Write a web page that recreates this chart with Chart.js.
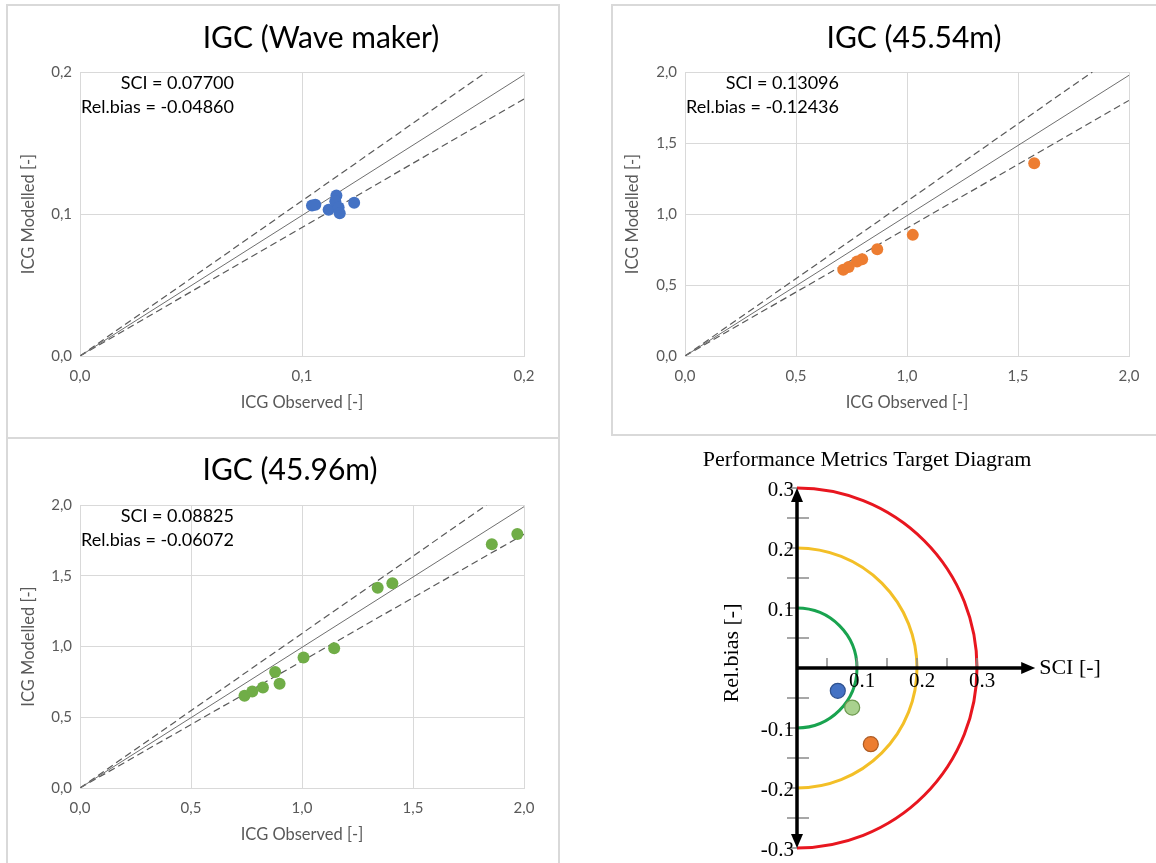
<!DOCTYPE html>
<html>
<head>
<meta charset="utf-8">
<script src="https://cdn.jsdelivr.net/npm/chart.js@4.4.0/dist/chart.umd.min.js"></script>
<style>
  html, body { margin: 0; padding: 0; background: #fff; }
  body { width: 1156px; height: 863px; position: relative; overflow: hidden; }
  .frame { position: absolute; border: 2px solid #d9d9d9; box-sizing: border-box; }
  canvas { position: absolute; }
</style>
</head>
<body>
<div class="frame" style="left:6px;top:4px;width:554px;height:435px"></div>
<div class="frame" style="left:6px;top:437px;width:554px;height:440px"></div>
<div class="frame" style="left:611px;top:4px;width:560px;height:432px"></div>

<canvas id="cWave" width="578" height="437" style="left:0;top:0"></canvas>
<canvas id="c4554" width="576" height="437" style="left:580px;top:0"></canvas>
<canvas id="c4596" width="578" height="426" style="left:0;top:437px"></canvas>
<canvas id="cTarget" width="576" height="423" style="left:580px;top:440px"></canvas>

<script>
// ---------- IGC (Wave maker) ----------
const wmObs = [0.1045, 0.1060, 0.1120, 0.1155, 0.1150, 0.1165, 0.1170, 0.1235];
const wmMod = [0.1060, 0.1065, 0.1030, 0.1130, 0.1090, 0.1045, 0.1005, 0.1080];
const wmStats = ['SCI = 0.07700', 'Rel.bias = -0.04860'];
const wmOne = [[0, 0], [0.2, 0.198]];
const wmUp  = [[0, 0], [0.183, 0.2]];
const wmLo  = [[0, 0], [0.2, 0.181]];

// ---------- IGC (45.54m) ----------
const m54Obs = [0.713, 0.737, 0.775, 0.798, 0.866, 1.026, 1.573];
const m54Mod = [0.607, 0.627, 0.665, 0.682, 0.752, 0.853, 1.358];
const m54Stats = ['SCI = 0.13096', 'Rel.bias = -0.12436'];
const m54One = [[0, 0], [2.0, 1.977]];
const m54Up  = [[0, 0], [1.835, 2.0]];
const m54Lo  = [[0, 0], [2.0, 1.80]];

// ---------- IGC (45.96m) ----------
const m96Obs = [0.741, 0.776, 0.824, 0.879, 0.899, 1.007, 1.145, 1.341, 1.407, 1.855, 1.970];
const m96Mod = [0.652, 0.682, 0.711, 0.819, 0.736, 0.922, 0.988, 1.416, 1.447, 1.722, 1.795];
const m96Stats = ['SCI = 0.08825', 'Rel.bias = -0.06072'];
const m96One = [[0, 0], [2.0, 1.988]];
const m96Up  = [[0, 0], [1.831, 2.0]];
const m96Lo  = [[0, 0], [2.0, 1.793]];

// ---------- Target diagram ----------
const tgtNames = ['Wave maker', '45.96m', '45.54m'];
const tgtSci   = [0.068, 0.092, 0.123];
const tgtBias  = [-0.038, -0.066, -0.127];
const tgtFill  = ['#4472c4', '#a9d18e', '#ed7d31'];
const tgtEdge  = ['#2f528f', '#6e9a50', '#ae5a21'];
const ringRadii  = [0.1, 0.2, 0.3];
const ringColors = ['#19a34f', '#f3bf27', '#e8161f'];
const tgtYLabels = [0.3, 0.2, 0.1, -0.1, -0.2, -0.3];
const tgtYMinor  = [0.25, 0.15, 0.05, -0.05, -0.15, -0.25];
const tgtXLabels = [0.1, 0.2, 0.3];
const tgtXTicks  = [0.05, 0.1, 0.15, 0.2, 0.25, 0.3];
const sciAxisEnd = 0.397;

const pts = (xs, ys) => xs.map((x, i) => ({ x, y: ys[i] }));
const seg = a => a.map(p => ({ x: p[0], y: p[1] }));
const comma = v => v.toFixed(1).replace('.', ',');
const GREY = '#595959';

// title + SCI / bias text of the scatter panels
const panelText = {
  id: 'panelText',
  afterDraw(chart, args, o) {
    const { ctx, chartArea: a } = chart;
    ctx.save();
    ctx.fillStyle = '#000';
    ctx.textBaseline = 'middle';
    ctx.textAlign = 'center';
    ctx.font = '30px Lato';
    ctx.fillText(o.title, o.titleAt[0], o.titleAt[1]);
    ctx.font = '18px Lato';
    ctx.textAlign = 'right';
    o.lines.forEach((t, i) => ctx.fillText(t, a.left + 154, a.top + 11 + i * 24));
    ctx.restore();
  }
};

function scatterPanel(id, c) {
  const axisFont = { family: 'Lato', size: 15 };
  const titleFont = { family: 'Lato', size: 16.5 };
  return new Chart(document.getElementById(id), {
    type: 'scatter',
    data: {
      datasets: [
        { data: pts(c.obs, c.mod), backgroundColor: c.color, borderColor: c.color,
          pointRadius: 6, pointHoverRadius: 6, borderWidth: 0, order: 0 },
        { type: 'line', data: seg(c.one), borderColor: '#6f6f6f', borderWidth: 1, pointRadius: 0, order: 1 },
        { type: 'line', data: seg(c.up), borderColor: GREY, borderWidth: 1.2, borderDash: [7, 4], pointRadius: 0, order: 1 },
        { type: 'line', data: seg(c.lo), borderColor: GREY, borderWidth: 1.2, borderDash: [7, 4], pointRadius: 0, order: 1 }
      ]
    },
    options: {
      responsive: false, animation: false,
      layout: { padding: c.pad },
      plugins: {
        legend: { display: false }, tooltip: { enabled: false },
        panelText: { title: c.title, titleAt: c.titleAt, lines: c.stats }
      },
      scales: {
        x: {
          min: 0, max: c.max,
          grid: { color: '#d9d9d9', drawTicks: false },
          border: { color: '#d9d9d9' },
          ticks: { stepSize: c.step, callback: comma, color: GREY, font: axisFont, padding: 11 },
          title: { display: true, text: 'ICG Observed [-]', color: GREY, font: titleFont, padding: { top: 0, bottom: c.xTitlePad } },
          afterFit: s => { s.height = c.xH; }
        },
        y: {
          min: 0, max: c.max,
          grid: { color: '#d9d9d9', drawTicks: false },
          border: { color: '#d9d9d9' },
          ticks: { stepSize: c.step, callback: comma, color: GREY, font: axisFont, padding: 8 },
          title: { display: true, text: 'ICG Modelled [-]', color: GREY, font: titleFont, padding: { top: 9, bottom: 0 } },
          afterFit: s => { s.width = c.yW; }
        }
      }
    },
    plugins: [panelText]
  });
}

scatterPanel('cWave', {
  title: 'IGC (Wave maker)', titleAt: [321, 38], stats: wmStats,
  obs: wmObs, mod: wmMod, one: wmOne, up: wmUp, lo: wmLo,
  color: '#4472c4', max: 0.2, step: 0.1,
  pad: { left: 10, right: 54, top: 72, bottom: 0 }, yW: 70, xH: 81, xTitlePad: 24
});

scatterPanel('c4554', {
  title: 'IGC (45.54m)', titleAt: [334, 38], stats: m54Stats,
  obs: m54Obs, mod: m54Mod, one: m54One, up: m54Up, lo: m54Lo,
  color: '#ed7d31', max: 2, step: 0.5,
  pad: { left: 34, right: 27, top: 72, bottom: 0 }, yW: 71, xH: 81, xTitlePad: 24
});

scatterPanel('c4596', {
  title: 'IGC (45.96m)', titleAt: [290, 33], stats: m96Stats,
  obs: m96Obs, mod: m96Mod, one: m96One, up: m96Up, lo: m96Lo,
  color: '#70ad47', max: 2, step: 0.5,
  pad: { left: 10, right: 54, top: 68, bottom: 0 }, yW: 70, xH: 75, xTitlePad: 18
});

// rings, arrows, ticks and labels of the target diagram
const targetFrame = {
  id: 'targetFrame',
  beforeDatasetsDraw(chart) {
    const { ctx, scales: { x, y } } = chart;
    const x0 = x.getPixelForValue(0), y0 = y.getPixelForValue(0);
    const line = (a, b, c, d) => { ctx.beginPath(); ctx.moveTo(a, b); ctx.lineTo(c, d); ctx.stroke(); };
    const tri = (p) => { ctx.beginPath(); ctx.moveTo(p[0], p[1]); ctx.lineTo(p[2], p[3]); ctx.lineTo(p[4], p[5]); ctx.closePath(); ctx.fill(); };
    ctx.save();

    ringRadii.forEach((r, i) => {
      const rp = x.getPixelForValue(r) - x0;
      ctx.beginPath();
      ctx.arc(x0, y0, rp, -Math.PI / 2, Math.PI / 2);
      ctx.strokeStyle = ringColors[i];
      ctx.lineWidth = 3;
      ctx.stroke();
    });

    ctx.strokeStyle = '#8a8a8a';
    ctx.lineWidth = 1.5;
    tgtYMinor.forEach(v => { const p = y.getPixelForValue(v); line(x0 - 10, p, x0 + 12, p); });
    tgtYLabels.forEach(v => { const p = y.getPixelForValue(v); line(x0 - 10, p, x0, p); });
    tgtXTicks.forEach(v => { const p = x.getPixelForValue(v); line(p, y0 - 10, p, y0); });

    const top = y.getPixelForValue(0.3), bot = y.getPixelForValue(-0.3);
    const right = x.getPixelForValue(sciAxisEnd);
    ctx.strokeStyle = '#000';
    ctx.fillStyle = '#000';
    ctx.lineWidth = 3.5;
    line(x0, top + 8, x0, bot - 8);
    line(x0, y0, right - 8, y0);
    tri([x0, top, x0 - 6, top + 14, x0 + 6, top + 14]);
    tri([x0, bot, x0 - 6, bot - 14, x0 + 6, bot - 14]);
    tri([right, y0, right - 14, y0 - 6, right - 14, y0 + 6]);

    ctx.font = '21px "Liberation Serif"';
    ctx.textBaseline = 'middle';
    ctx.textAlign = 'right';
    tgtYLabels.forEach(v => ctx.fillText(v.toFixed(1), x0 - 3, y.getPixelForValue(v) + 2));
    ctx.textAlign = 'center';
    ctx.textBaseline = 'top';
    tgtXLabels.forEach(v => ctx.fillText(v.toFixed(1), x.getPixelForValue(v) + 5, y0 + 3));

    ctx.font = '22px "Liberation Serif"';
    ctx.textAlign = 'left';
    ctx.textBaseline = 'middle';
    ctx.fillText('SCI [-]', right + 4, y0);

    ctx.save();
    ctx.translate(x0 - 65, y0 - 15);
    ctx.rotate(-Math.PI / 2);
    ctx.textAlign = 'center';
    ctx.fillText('Rel.bias [-]', 0, 0);
    ctx.restore();

    ctx.textAlign = 'center';
    ctx.fillText('Performance Metrics Target Diagram', x0 + 70, top - 28);
    ctx.restore();
  }
};

new Chart(document.getElementById('cTarget'), {
  type: 'scatter',
  data: {
    datasets: [{
      label: 'Target', data: pts(tgtSci, tgtBias),
      backgroundColor: tgtFill, borderColor: tgtEdge, borderWidth: 1.2,
      pointRadius: 7.5, pointHoverRadius: 7.5
    }]
  },
  options: {
    responsive: false, animation: false,
    layout: { padding: { left: 157, right: 59, top: 48, bottom: 15 } },
    plugins: { legend: { display: false }, tooltip: { enabled: false } },
    scales: {
      x: { display: false, min: -0.1, max: 0.5 },
      y: { display: false, min: -0.3, max: 0.3 }
    }
  },
  plugins: [targetFrame]
});
</script>
</body>
</html>
